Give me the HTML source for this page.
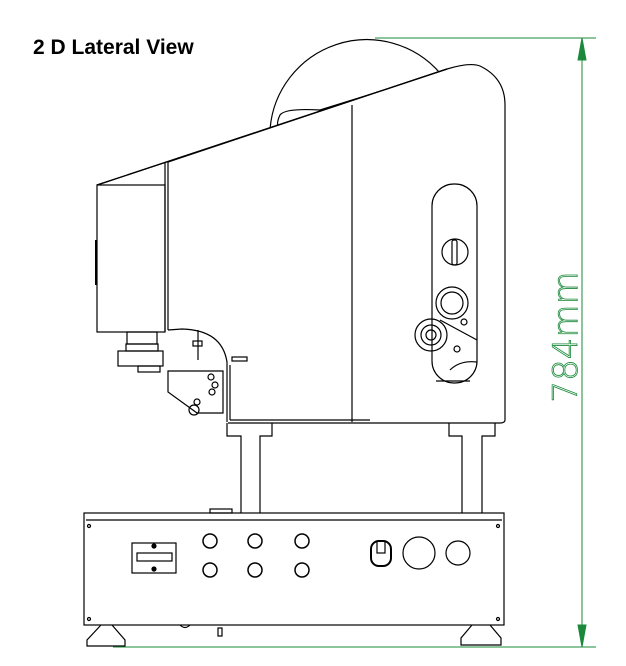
<!DOCTYPE html>
<html><head><style>
html,body{margin:0;padding:0;background:#fff;}
svg{display:block}
</style></head><body>
<svg width="626" height="666" viewBox="0 0 626 666" xmlns="http://www.w3.org/2000/svg">
<text x="33" y="54" font-family="Liberation Sans, sans-serif" font-weight="bold" font-size="21" fill="#000">2 D Lateral View</text>
<g fill="none" stroke="#000" stroke-width="1.2">
<path d="M270,130 A97,97 0 0 1 440,73"/>
<path d="M280,115 Q270,135 300,147 L370,120 Q420,105 430,88 Q425,78 410,82 L320,110 Q285,108 280,115Z"/>
<path d="M97,185 L447,69 Q470,62 480,66 Q505,78 505,105 L505,420 Q505,423 500,423 L228,423" fill="#fff"/>
<path d="M97,185 L447,69"/>
<rect x="97" y="185" width="68" height="147" fill="#fff"/>
<line x1="96" y1="240" x2="96" y2="285" stroke-width="2"/>
<path d="M165,163 L165,332 M168,162 L168,330" />
<line x1="168" y1="162" x2="447" y2="69"/>
<line x1="352" y1="105" x2="352" y2="422"/>
<line x1="230" y1="420" x2="370" y2="420"/>
<path d="M168,330 L182,329 Q222,330 227,362 L227,422"/>
<path d="M230,365 L230,420"/>
<rect x="232" y="357" width="15" height="4"/>
<rect x="193" y="341" width="9" height="5"/>
<line x1="198" y1="330" x2="198" y2="360"/>
<rect x="127" y="332" width="30" height="12"/>
<rect x="126" y="344" width="32" height="7"/>
<rect x="118" y="351" width="45" height="15"/>
<rect x="138" y="366" width="22" height="6"/>
<path d="M168,371 L223,371 L223,413 L197,413 L168,392 Z" fill="#fff"/>
<circle cx="211" cy="377" r="3"/><circle cx="215" cy="385" r="3"/><circle cx="212" cy="392" r="3"/><circle cx="197" cy="402" r="3"/>
<circle cx="194" cy="410" r="5"/>
<rect x="432" y="184" width="45" height="199" rx="22" ry="22"/>
<circle cx="455" cy="252" r="13"/>
<rect x="452" y="240" width="5" height="25" rx="2"/>
<circle cx="452" cy="303" r="16"/><circle cx="452" cy="303" r="11"/>
<circle cx="431" cy="335" r="16"/><circle cx="431" cy="335" r="10"/><circle cx="431" cy="335" r="5"/>
<path d="M440,320 L477,340 M450,370 Q460,360 477,362 M436,381 L470,381"/>
<circle cx="464" cy="322" r="3"/><circle cx="457" cy="349" r="3"/>
<path d="M227,423 L227,436 L241,436 L241,513 M260,513 L260,436 L272,436 L272,423"/>
<path d="M449,423 L449,436 L462,436 L462,513 M482,513 L482,436 L495,436 L495,423"/>
<rect x="84" y="513" width="420" height="112" fill="#fff"/>
<line x1="86" y1="520" x2="502" y2="520"/>
<rect x="210" y="509" width="22" height="4"/>
<circle cx="89" cy="526" r="1.5"/><circle cx="498" cy="526" r="1.5"/><circle cx="89" cy="619" r="1.5"/><circle cx="498" cy="619" r="1.5"/>
<rect x="132" y="543" width="44" height="30"/>
<rect x="137" y="553" width="35" height="8"/>
<circle cx="154" cy="546" r="2" fill="#000"/><circle cx="154" cy="569" r="2" fill="#000"/>
<g stroke-width="1.5">
<circle cx="210" cy="541" r="7"/><circle cx="255" cy="541" r="7"/><circle cx="302" cy="541" r="7"/>
<circle cx="210" cy="570" r="7"/><circle cx="255" cy="570" r="7"/><circle cx="302" cy="570" r="7"/>
</g>
<rect x="371" y="541" width="20" height="25" rx="8" stroke-width="2"/>
<rect x="377" y="541" width="8" height="12"/>
<circle cx="419" cy="553" r="16"/>
<circle cx="458" cy="553" r="12"/>
<path d="M101,625 L87,640 L87,646 L125,646 L125,640 L112,625"/>
<path d="M472,625 L461,638 L461,645 L501,645 L501,638 L490,625"/>
<path d="M180,625 Q185,630 190,625"/>
<rect x="218" y="628" width="4" height="8"/>
</g>
<g stroke="#1a8a3a" stroke-width="1" fill="#1a8a3a">
<line x1="375" y1="38" x2="596" y2="38"/>
<line x1="113" y1="647" x2="596" y2="647"/>
<line x1="582" y1="38" x2="582" y2="647"/>
<path d="M582,38 L578,60 L586,60 Z"/>
<path d="M582,647 L578,625 L586,625 Z"/>
</g>
<text transform="translate(577,337) rotate(-90)" text-anchor="middle" font-family="DejaVu Sans, sans-serif" font-weight="200" font-size="34" fill="none" stroke="#1a8a3a" stroke-width="0.8">784mm</text>
</svg>
</body></html>
